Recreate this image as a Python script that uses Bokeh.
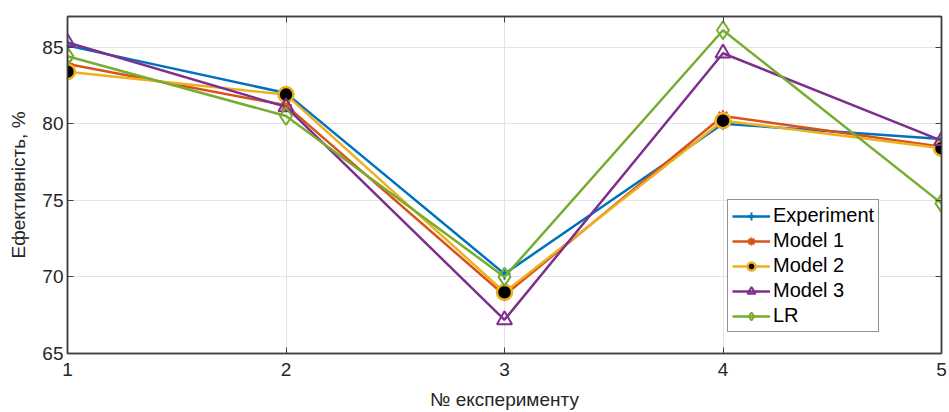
from bokeh.plotting import figure
from bokeh.models import Range1d, LinearAxis, FixedTicker, Legend, LegendItem, CustomLabelingPolicy
from bokeh.embed import file_html
from bokeh.resources import INLINE

experiments = [1, 2, 3, 4, 5]
experiment = [85.1, 82.0, 70.2, 80.0, 79.0]
model1 = [83.9, 81.2, 68.8, 80.5, 78.5]
model2 = [83.4, 81.9, 69.0, 80.2, 78.4]
model3 = [85.3, 81.1, 67.2, 84.6, 78.9]
lr = [84.4, 80.5, 70.0, 86.1, 74.8]
x_ticks = [1, 2, 3, 4, 5]
y_ticks = [65, 70, 75, 80, 85]

FONT = "Liberation Sans"
AX = "#404040"

p = figure(width=949, height=412, output_backend="svg", toolbar_location=None,
           x_range=Range1d(1, 5), y_range=Range1d(65, 87),
           min_border_left=67, min_border_right=8, min_border_top=16, min_border_bottom=59)
p.outline_line_color = AX
p.outline_line_width = 1.5
p.background_fill_color = "white"
p.border_fill_color = "white"

for ax in [p.xaxis[0], p.yaxis[0]]:
    ax.major_tick_in = 6
    ax.major_tick_out = 0
    ax.minor_tick_in = 0
    ax.minor_tick_out = 0
    ax.axis_line_color = AX
    ax.axis_line_width = 1.5
    ax.major_tick_line_color = AX
    ax.major_label_text_font = FONT
    ax.major_label_text_font_size = "19px"
    ax.major_label_text_color = "#262626"
    ax.axis_label_text_font = FONT
    ax.axis_label_text_font_size = "19px"
    ax.axis_label_text_font_style = "normal"
    ax.axis_label_text_color = "#262626"

p.xaxis.ticker = FixedTicker(ticks=x_ticks)
p.yaxis.ticker = FixedTicker(ticks=y_ticks)
p.xaxis.axis_label = "№ експерименту"
p.yaxis.axis_label = "Ефективність, %"
p.xaxis.major_label_standoff = 9
p.xaxis.axis_label_standoff = 10
p.yaxis.major_label_standoff = 4
p.yaxis.axis_label_standoff = 10

no_labels = CustomLabelingPolicy(code="""
try {
  const n = indices.size;
  for (let i = 0; i < n; i++) { indices.unset(i); }
} catch (e) {}
return indices;
""")
for loc, tk in [("right", y_ticks), ("above", x_ticks)]:
    a = LinearAxis(ticker=FixedTicker(ticks=tk))
    a.major_tick_in = 6
    a.major_tick_out = 0
    a.minor_tick_in = 0
    a.minor_tick_out = 0
    a.axis_line_color = AX
    a.axis_line_width = 1.5
    a.major_tick_line_color = AX
    a.major_label_policy = no_labels
    a.major_label_text_font_size = "1px"
    a.major_label_text_alpha = 0
    a.major_label_standoff = 0
    p.add_layout(a, loc)

p.xgrid.grid_line_color = "#e3e3e3"
p.ygrid.grid_line_color = "#e3e3e3"
p.xgrid.ticker = FixedTicker(ticks=x_ticks)
p.ygrid.ticker = FixedTicker(ticks=y_ticks)

C1, C2, C3, C4, C5 = "#0072BD", "#D95319", "#EDB120", "#7E2F8E", "#77AC30"
LW = 2.5

items = []
r1 = p.line(experiments, experiment, line_color=C1, line_width=LW)
s1 = p.scatter(experiments, experiment, marker="cross", size=12, line_color=C1, line_width=2)
items.append(LegendItem(label="Experiment", renderers=[r1, s1]))

r2 = p.line(experiments, model1, line_color=C2, line_width=LW)
s2 = p.scatter(experiments, model1, marker="asterisk", size=12, line_color=C2, line_width=2)
items.append(LegendItem(label="Model 1", renderers=[r2, s2]))

r3 = p.line(experiments, model2, line_color=C3, line_width=LW)
s3 = p.scatter(experiments, model2, marker="circle", size=15, fill_color="black", line_color=C3, line_width=2.5)
items.append(LegendItem(label="Model 2", renderers=[r3, s3]))

r4 = p.line(experiments, model3, line_color=C4, line_width=LW)
s4 = p.scatter(experiments, model3, marker="triangle", size=15, fill_color=None, line_color=C4, line_width=2)
items.append(LegendItem(label="Model 3", renderers=[r4, s4]))

r5 = p.line(experiments, lr, line_color=C5, line_width=LW)
s5 = p.scatter(experiments, lr, marker="diamond", size=18, fill_color=None, line_color=C5, line_width=2)
items.append(LegendItem(label="LR", renderers=[r5, s5]))

leg = Legend(items=items, location=(660, 21))
leg.label_text_font = FONT
leg.label_text_font_size = "20px"
leg.label_text_color = "black"
leg.glyph_width = 38
leg.glyph_height = 20
leg.label_height = 20
leg.label_standoff = 3
leg.spacing = 2
leg.padding = 4
leg.margin = 0
leg.border_line_color = "#262626"
leg.border_line_width = 1
leg.background_fill_color = "white"
leg.background_fill_alpha = 1
p.add_layout(leg, "center")

open("out.html", "w").write(file_html(p, INLINE))
